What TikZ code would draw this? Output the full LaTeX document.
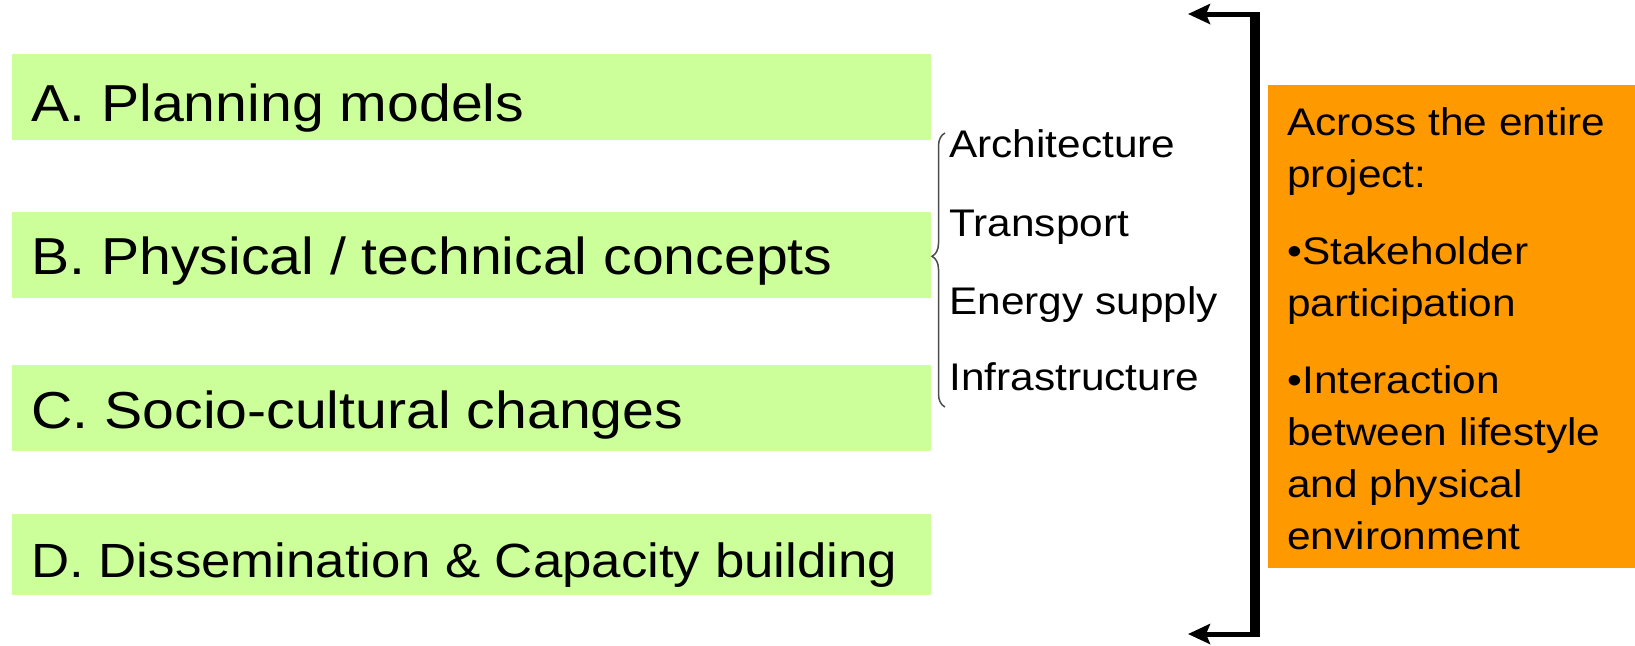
\documentclass[tikz,border=0pt]{standalone}
\usepackage{fontspec}
\setmainfont[FakeStretch=1.1]{Liberation Sans}
\usetikzlibrary{shapes, arrows.meta, decorations.pathreplacing}

\definecolor{pkggreen}{RGB}{204,255,153}
\definecolor{crossorange}{RGB}{255,153,0}

\begin{document}
\begin{tikzpicture}[x=0.5pt, y=-0.5pt,
  workpkg/.style={fill=pkggreen, anchor=north west, minimum width=459.5pt, minimum height=43pt, inner sep=0pt},
  pkglabel/.style={anchor=base west, inner sep=0pt, font=\fontsize{26}{30}\selectfont},
  topic/.style={anchor=base west, inner sep=0pt, font=\fontsize{19.25}{26}\selectfont},
  bracket/.style={line width=2.5pt, -{Stealth[length=11pt, width=10pt, inset=2pt]}}]
\useasboundingbox (0,0) rectangle (1635,645);

% work packages
\node[workpkg] (a) at (12,54) {};
\node[workpkg] (b) at (12,212) {};
\node[workpkg] (c) at (12,365) {};
\node[workpkg, minimum height=40.5pt] (d) at (12,514) {};
\node[pkglabel] (la) at (31,121) {A. Planning models};
\node[pkglabel] (lb) at (31,274) {B. Physical / technical concepts};
\node[pkglabel] (lc) at (31,428) {C. Socio-cultural changes};
\node[pkglabel, font=\fontsize{24}{28}\selectfont] (ld) at (31,577) {D. Dissemination \& Capacity building};

% topics of B
\coordinate (bb) at (945,407);
\coordinate (bt) at (945,133);
\draw[black!70, line width=0.75pt, decorate, decoration={brace, amplitude=6.5pt, aspect=0.55}] (bb) -- (bt);
\node[topic] (arch) at (949,157) {Architecture};
\node[topic] (trans) at (949,236) {Transport};
\node[topic] (energy) at (949,314) {Energy supply};
\node[topic] (infra) at (949,390) {Infrastructure};

% bracket over the whole project
\coordinate (ct) at (1255,11.5);
\coordinate (cb) at (1255,636.5);
\coordinate (ht) at (1257,14);
\coordinate (hb) at (1257,634);
\coordinate (tt) at (1188,14);
\coordinate (tb) at (1188,634);
\draw[line width=5pt] (ct) -- (cb);
\draw[bracket] (ht) -- (tt);
\draw[bracket] (hb) -- (tb);

% cross-cutting tasks
\node[fill=crossorange, anchor=north west, minimum width=183.5pt, minimum height=241.5pt, inner sep=0pt] (cross) at (1268,85) {};
\node[anchor=north west, inner sep=0pt, align=left, font=\fontsize{19.25}{26}\selectfont] (crosstext) at (1287,107)
  {Across the entire\\ project:\\[12.5pt] •Stakeholder\\ participation\\[12.5pt] •Interaction\\ between lifestyle\\ and physical\\ environment};
\end{tikzpicture}
\end{document}
